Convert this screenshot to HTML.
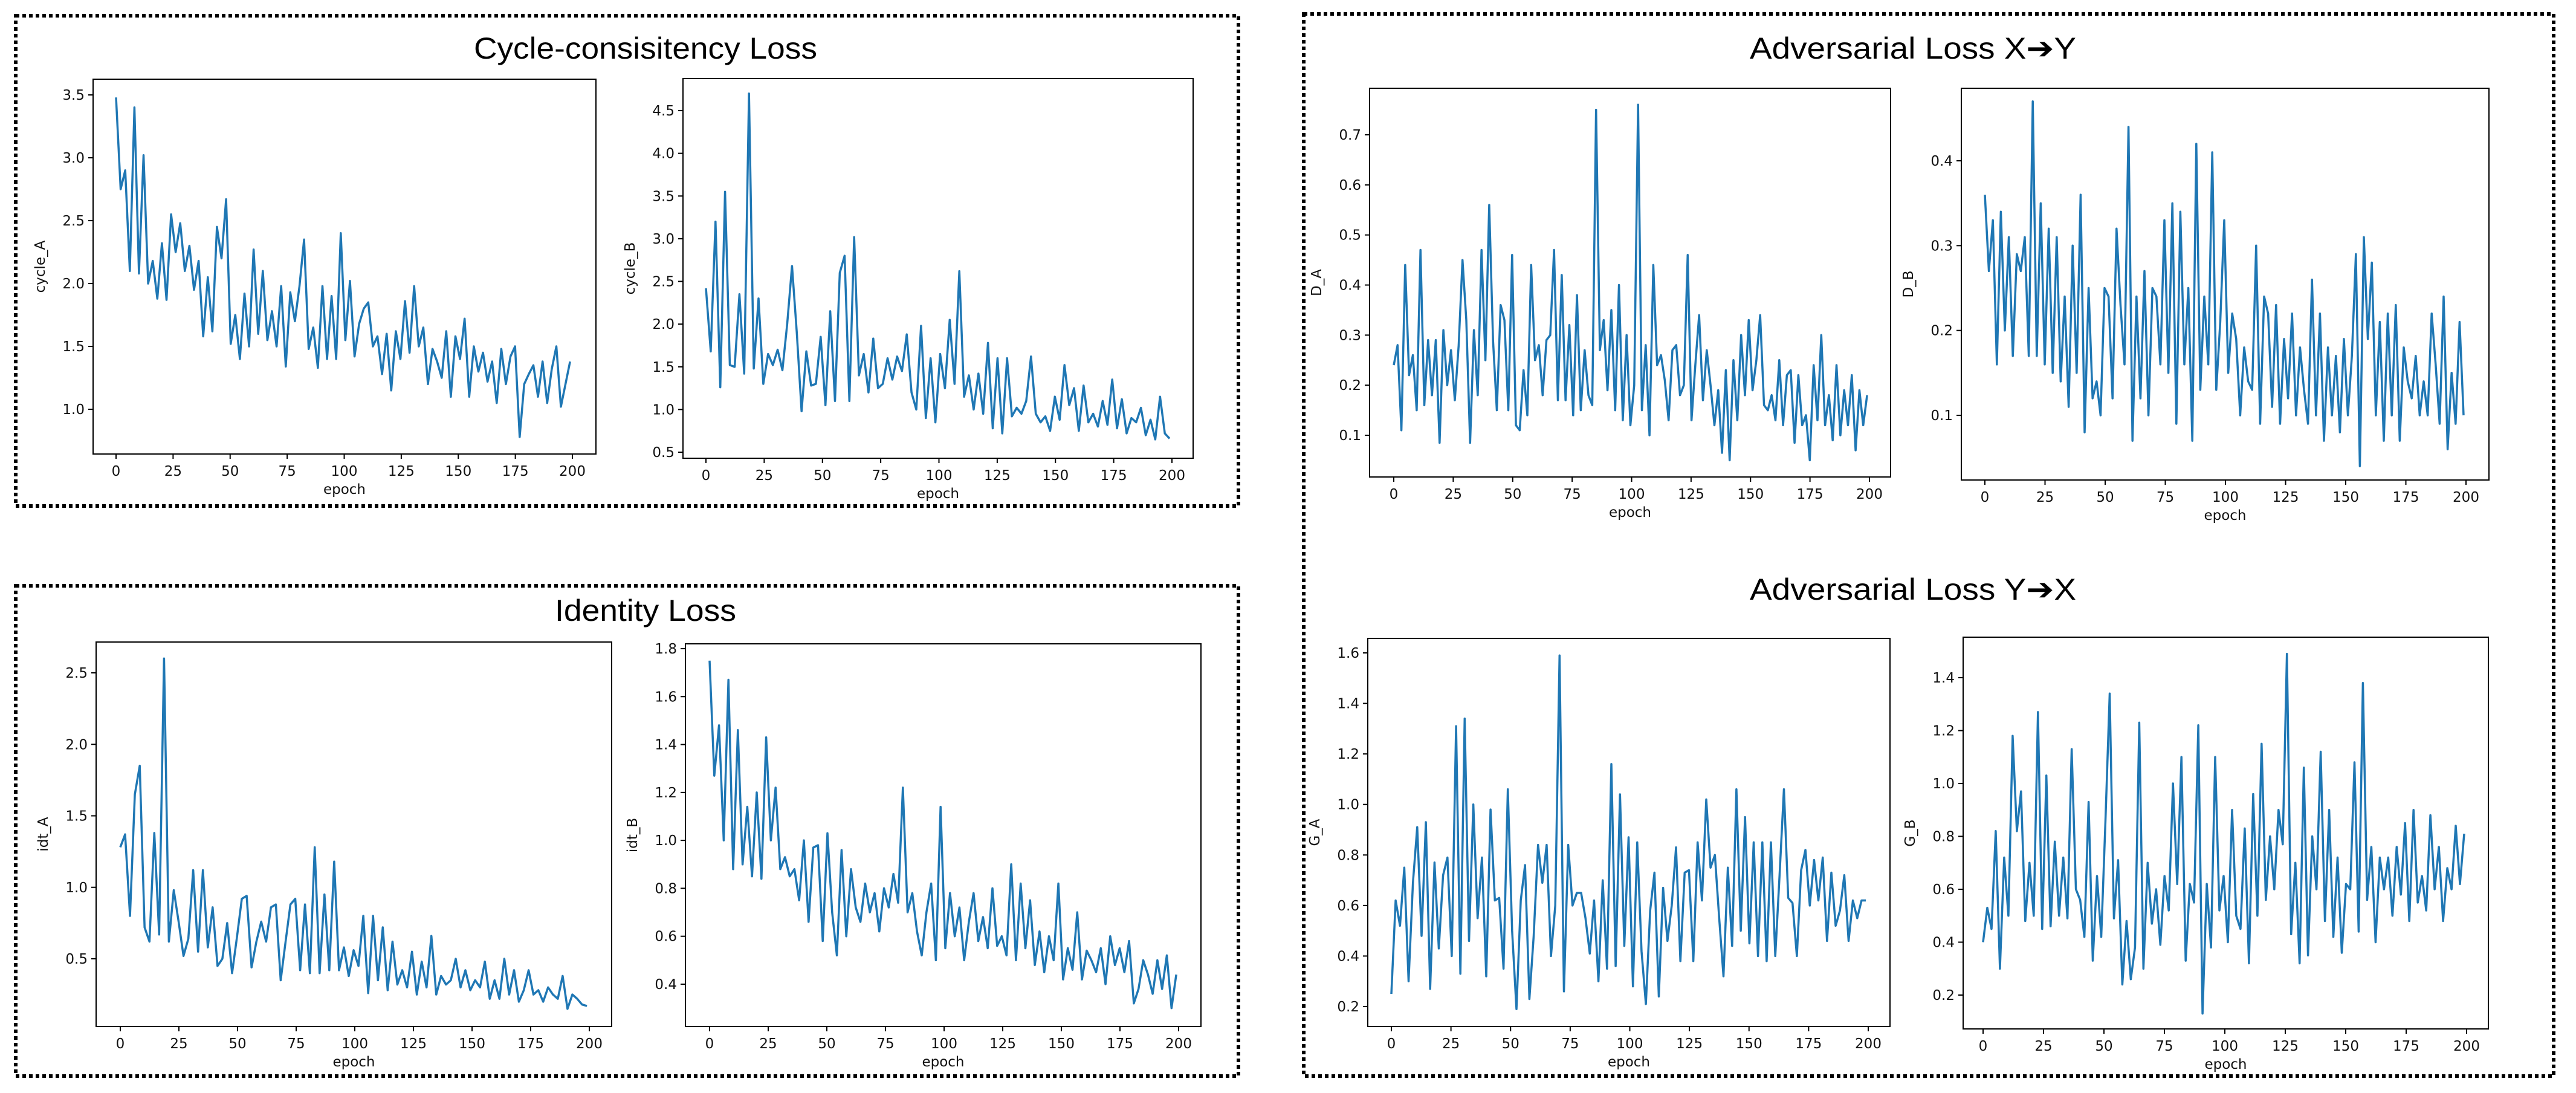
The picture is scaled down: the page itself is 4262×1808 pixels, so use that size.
<!DOCTYPE html>
<html><head><meta charset="utf-8"><style>
html,body{margin:0;padding:0;background:#fff;}
svg{display:block;}
text{font-family:"DejaVu Sans","Liberation Sans",sans-serif;fill:#111;}
.title{font-family:"Liberation Sans",sans-serif;font-size:50px;fill:#000;}
</style></head><body>
<svg id="root" width="4262" height="1808" viewBox="0 0 4262 1808" xmlns="http://www.w3.org/2000/svg">
<rect x="26" y="26" width="2023" height="811" fill="none" stroke="#000" stroke-width="6" stroke-dasharray="6,5"/>
<rect x="26" y="969" width="2023" height="811" fill="none" stroke="#000" stroke-width="6" stroke-dasharray="6,5"/>
<rect x="2157" y="23" width="2068" height="1757" fill="none" stroke="#000" stroke-width="6" stroke-dasharray="6,5"/>
<text class="title" x="1068" y="97" text-anchor="middle" textLength="568" lengthAdjust="spacingAndGlyphs">Cycle-consisitency Loss</text>
<text class="title" x="1068" y="1027" text-anchor="middle" textLength="300" lengthAdjust="spacingAndGlyphs">Identity Loss</text>
<text class="title" x="3165" y="97" text-anchor="middle" textLength="540" lengthAdjust="spacingAndGlyphs">Adversarial Loss X➔Y</text>
<text class="title" x="3165" y="992" text-anchor="middle" textLength="540" lengthAdjust="spacingAndGlyphs">Adversarial Loss Y➔X</text>
<g id="charts"></g>
</svg>
<script>
const xTicks = [0,25,50,75,100,125,150,175,200];
const cycleA = [3.48,2.75,2.9,2.1,3.4,2.08,3.02,2.0,2.18,1.88,2.32,1.87,2.55,2.25,2.48,2.1,2.3,1.95,2.18,1.58,2.05,1.62,2.45,2.2,2.67,1.52,1.75,1.4,1.92,1.5,2.27,1.6,2.1,1.55,1.78,1.5,1.98,1.34,1.93,1.7,1.98,2.35,1.48,1.65,1.33,1.98,1.4,1.9,1.4,2.4,1.55,2.02,1.42,1.68,1.8,1.85,1.5,1.58,1.28,1.6,1.15,1.62,1.4,1.86,1.45,1.98,1.5,1.65,1.2,1.48,1.38,1.25,1.62,1.1,1.58,1.4,1.72,1.1,1.5,1.3,1.45,1.22,1.38,1.05,1.48,1.2,1.42,1.5,0.78,1.2,1.28,1.35,1.1,1.38,1.05,1.32,1.5,1.02,1.2,1.38];
const cycleB = [2.42,1.68,3.2,1.26,3.55,1.52,1.5,2.35,1.42,4.7,1.48,2.3,1.3,1.65,1.52,1.7,1.46,2.0,2.68,1.9,0.98,1.68,1.28,1.3,1.85,1.05,2.15,1.1,2.6,2.8,1.1,3.02,1.4,1.65,1.2,1.83,1.25,1.3,1.6,1.35,1.62,1.45,1.88,1.2,1.0,1.98,0.9,1.6,0.85,1.65,1.25,2.05,1.3,2.62,1.15,1.4,1.0,1.42,0.95,1.78,0.78,1.6,0.72,1.6,0.92,1.02,0.95,1.1,1.62,0.95,0.85,0.92,0.75,1.15,0.88,1.52,1.05,1.25,0.75,1.28,0.85,0.95,0.8,1.1,0.82,1.35,0.78,1.12,0.72,0.9,0.85,1.02,0.7,0.88,0.65,1.15,0.72,0.66];
const idtA = [1.28,1.37,0.8,1.65,1.85,0.72,0.62,1.38,0.67,2.6,0.62,0.98,0.76,0.52,0.64,1.12,0.55,1.12,0.58,0.86,0.45,0.5,0.75,0.4,0.65,0.92,0.94,0.44,0.62,0.76,0.62,0.86,0.88,0.35,0.62,0.88,0.92,0.42,0.88,0.4,1.28,0.4,0.95,0.42,1.18,0.42,0.58,0.38,0.56,0.45,0.8,0.26,0.8,0.35,0.72,0.28,0.62,0.32,0.42,0.3,0.55,0.25,0.48,0.3,0.66,0.25,0.38,0.32,0.35,0.5,0.3,0.42,0.28,0.35,0.3,0.48,0.22,0.35,0.22,0.5,0.25,0.42,0.2,0.28,0.42,0.25,0.28,0.2,0.3,0.25,0.22,0.38,0.15,0.25,0.22,0.18,0.17];
const idtB = [1.75,1.27,1.48,1.0,1.67,0.88,1.46,0.9,1.14,0.85,1.2,0.84,1.43,1.0,1.22,0.88,0.93,0.85,0.88,0.75,1.0,0.66,0.97,0.98,0.58,1.03,0.7,0.52,0.96,0.6,0.88,0.72,0.66,0.82,0.7,0.78,0.62,0.8,0.72,0.86,0.74,1.22,0.7,0.78,0.62,0.52,0.7,0.82,0.5,1.14,0.55,0.78,0.6,0.72,0.5,0.66,0.78,0.58,0.68,0.55,0.8,0.56,0.6,0.52,0.9,0.5,0.82,0.55,0.75,0.48,0.62,0.45,0.6,0.5,0.82,0.42,0.55,0.46,0.7,0.42,0.54,0.5,0.45,0.55,0.4,0.6,0.48,0.55,0.45,0.58,0.32,0.38,0.5,0.44,0.36,0.5,0.38,0.52,0.3,0.44];
const dA = [0.24,0.28,0.11,0.44,0.22,0.26,0.15,0.47,0.16,0.29,0.18,0.29,0.085,0.31,0.2,0.27,0.17,0.28,0.45,0.33,0.085,0.31,0.18,0.47,0.25,0.56,0.29,0.15,0.36,0.33,0.15,0.46,0.12,0.11,0.23,0.14,0.44,0.25,0.28,0.18,0.29,0.3,0.47,0.17,0.42,0.17,0.32,0.14,0.38,0.15,0.27,0.18,0.16,0.75,0.27,0.33,0.19,0.35,0.15,0.4,0.13,0.3,0.12,0.2,0.76,0.15,0.28,0.1,0.44,0.24,0.26,0.21,0.13,0.27,0.28,0.18,0.2,0.46,0.13,0.24,0.34,0.17,0.27,0.2,0.12,0.19,0.065,0.23,0.05,0.25,0.13,0.3,0.18,0.33,0.19,0.25,0.34,0.16,0.15,0.18,0.13,0.25,0.12,0.22,0.23,0.085,0.22,0.12,0.14,0.05,0.24,0.13,0.3,0.12,0.18,0.09,0.24,0.1,0.19,0.12,0.22,0.07,0.19,0.12,0.18];
const dB = [0.36,0.27,0.33,0.16,0.34,0.2,0.31,0.17,0.29,0.27,0.31,0.17,0.47,0.17,0.35,0.16,0.32,0.15,0.31,0.14,0.24,0.11,0.3,0.15,0.36,0.08,0.25,0.12,0.14,0.1,0.25,0.24,0.12,0.32,0.23,0.16,0.44,0.07,0.24,0.12,0.27,0.1,0.25,0.24,0.16,0.33,0.15,0.35,0.09,0.34,0.16,0.25,0.07,0.42,0.13,0.24,0.16,0.41,0.13,0.21,0.33,0.15,0.22,0.19,0.1,0.18,0.14,0.13,0.3,0.09,0.24,0.22,0.11,0.23,0.09,0.19,0.12,0.22,0.1,0.18,0.13,0.09,0.26,0.1,0.22,0.07,0.18,0.1,0.17,0.08,0.19,0.1,0.17,0.29,0.04,0.31,0.19,0.28,0.1,0.21,0.07,0.22,0.1,0.23,0.07,0.18,0.14,0.12,0.17,0.1,0.14,0.1,0.22,0.16,0.09,0.24,0.06,0.15,0.09,0.21,0.1];
const gA = [0.25,0.62,0.52,0.75,0.3,0.69,0.91,0.48,0.93,0.27,0.77,0.43,0.72,0.79,0.4,1.31,0.33,1.34,0.46,1.0,0.55,0.79,0.32,0.98,0.62,0.63,0.35,1.06,0.5,0.19,0.62,0.76,0.23,0.48,0.84,0.69,0.84,0.4,0.6,1.59,0.26,0.84,0.6,0.65,0.65,0.55,0.41,0.62,0.3,0.7,0.35,1.16,0.36,1.04,0.44,0.87,0.28,0.85,0.42,0.21,0.58,0.73,0.24,0.67,0.46,0.6,0.83,0.38,0.73,0.74,0.38,0.85,0.62,1.02,0.75,0.8,0.55,0.32,0.75,0.44,1.06,0.5,0.95,0.45,0.85,0.4,0.85,0.38,0.85,0.4,0.72,1.06,0.63,0.61,0.4,0.74,0.82,0.6,0.78,0.62,0.79,0.46,0.73,0.52,0.58,0.72,0.46,0.62,0.55,0.62,0.62];
const gB = [0.4,0.53,0.45,0.82,0.3,0.72,0.5,1.18,0.82,0.97,0.48,0.7,0.5,1.27,0.45,1.03,0.46,0.78,0.5,0.72,0.49,1.13,0.6,0.56,0.42,0.93,0.33,0.65,0.42,0.86,1.34,0.49,0.71,0.24,0.48,0.26,0.38,1.23,0.3,0.7,0.47,0.6,0.39,0.65,0.52,1.0,0.62,1.1,0.33,0.62,0.55,1.22,0.13,0.62,0.38,1.1,0.52,0.65,0.4,0.9,0.5,0.45,0.83,0.32,0.96,0.5,1.15,0.56,0.8,0.6,0.9,0.77,1.49,0.43,0.7,0.32,1.06,0.35,0.8,0.6,1.12,0.48,0.9,0.42,0.72,0.36,0.62,0.6,1.08,0.44,1.38,0.56,0.76,0.4,0.72,0.6,0.72,0.5,0.76,0.58,0.85,0.48,0.9,0.55,0.65,0.52,0.88,0.6,0.76,0.48,0.68,0.6,0.84,0.62,0.81];
const yTicksCycleA = [1.0,1.5,2.0,2.5,3.0,3.5];
const yTicksCycleB = [0.5,1.0,1.5,2.0,2.5,3.0,3.5,4.0,4.5];
const yTicksIdtA = [0.5,1.0,1.5,2.0,2.5];
const yTicksIdtB = [0.4,0.6,0.8,1.0,1.2,1.4,1.6,1.8];
const yTicksDA = [0.1,0.2,0.3,0.4,0.5,0.6,0.7];
const yTicksDB = [0.1,0.2,0.3,0.4];
const yTicksGA = [0.2,0.4,0.6,0.8,1.0,1.2,1.4,1.6];
const yTicksGB = [0.2,0.4,0.6,0.8,1.0,1.2,1.4];

const NS = "http://www.w3.org/2000/svg";
const root = document.getElementById('charts');
function mk(tag, attrs, parent){ const e=document.createElementNS(NS,tag); for(const k in attrs) e.setAttribute(k,attrs[k]); parent.appendChild(e); return e; }

function chart(name, ylabel, values, yTicks, dec, L,R,T,B, x0px,x200px, yv1,yp1,yv2,yp2){
  const g = mk('g',{},root);
  
  
  const xs = e => x0px + (x200px-x0px)*e/200;
  const ys = v => yp1 + (v-yv1)*(yp2-yp1)/(yv2-yv1);
  const n = values.length;
  let d='';
  values.forEach((v,i)=>{ const e=i*199/(n-1); d+=(i?'L':'M')+xs(e).toFixed(1)+','+ys(v).toFixed(1); });
  const line = mk('path',{d:d,fill:'none',stroke:'#1f77b4','stroke-width':3.5,'stroke-linejoin':'round'},g);
  
  
  const frame = mk('rect',{x:L,y:T,width:R-L,height:B-T,fill:'none',stroke:'#000','stroke-width':2},g);
  
  
  xTicks.forEach(t=>{
    const x=xs(t);
    mk('line',{x1:x,x2:x,y1:B,y2:B+8,stroke:'#000','stroke-width':2},g);
    const tx = mk('text',{x:x,y:B+36,'font-size':23,'text-anchor':'middle'},g);
    tx.textContent=t;
    
    
  });
  yTicks.forEach(t=>{
    const y=ys(t);
    mk('line',{x1:L-8,x2:L,y1:y,y2:y,stroke:'#000','stroke-width':2},g);
    const ty = mk('text',{x:L-14,y:y+8,'font-size':23,'text-anchor':'end'},g);
    ty.textContent=t.toFixed(dec);
    
    
  });
  const xl = mk('text',{x:(L+R)/2,y:B+66,'font-size':23,'text-anchor':'middle'},g);
  xl.textContent='epoch';
  
  
  const cy=(T+B)/2, cx=L-80;
  const yl = mk('text',{x:cx,y:cy,'font-size':23,'text-anchor':'middle',transform:'rotate(-90 '+cx+' '+cy+')'},g);
  yl.textContent=ylabel;
  
  
}

chart('cycle-a','cycle_A',cycleA,yTicksCycleA,1, 154,986,131,751, 192,947, 1.0,677,3.5,157);
chart('cycle-b','cycle_B',cycleB,yTicksCycleB,1, 1130,1974,130,758, 1168,1939, 0.5,748,4.5,183);
chart('idt-a','idt_A',idtA,yTicksIdtA,1, 159,1012,1062,1698, 199,975, 0.5,1586,2.5,1113);
chart('idt-b','idt_B',idtB,yTicksIdtB,1, 1134,1987,1065,1698, 1174,1950, 0.4,1628,1.8,1073);
chart('d-a','D_A',dA,yTicksDA,1, 2266,3128,146,789, 2306,3093, 0.1,720,0.7,223);
chart('d-b','D_B',dB,yTicksDB,1, 3245,4118,146,794, 3284,4080, 0.1,687,0.4,266);
chart('g-a','G_A',gA,yTicksGA,1, 2263,3127,1056,1698, 2302,3091, 0.2,1665,1.6,1080);
chart('g-b','G_B',gB,yTicksGB,1, 3248,4117,1054,1702, 3281,4081, 0.2,1646,1.4,1121);
</script>
</body></html>
